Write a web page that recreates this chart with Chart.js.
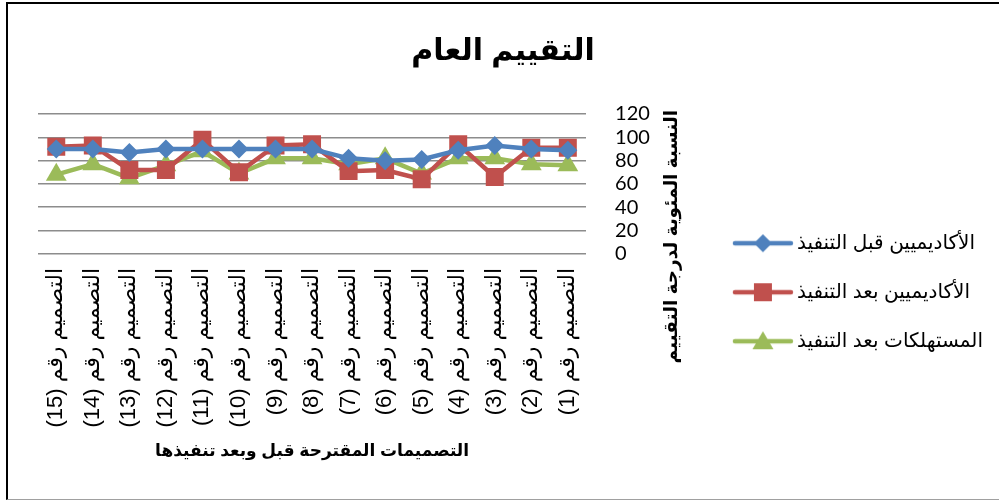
<!DOCTYPE html>
<html>
<head>
<meta charset="utf-8">
<script src="https://cdn.jsdelivr.net/npm/chart.js@4.4.1/dist/chart.umd.min.js"></script>
<style>
  html, body { margin: 0; padding: 0; background: #fff; }
  #wrap { position: relative; width: 999px; height: 500px; overflow: hidden; }
  #frame { position: absolute; left: 6px; top: 2px; width: 1000px; height: 495px;
           border-left: 2px solid #000; border-top: 2px solid #000; border-bottom: 1px solid #a0a0a0;
           pointer-events: none; }
</style>
</head>
<body>
<div id="wrap">
  <canvas id="taqyeemChart" width="999" height="500" dir="rtl"></canvas>
  <div id="frame"></div>
</div>
<script>
// التصميمات 1..15 (المحور معكوس: التصميم 1 على اليمين)
const designNumbers = [1, 2, 3, 4, 5, 6, 7, 8, 9, 10, 11, 12, 13, 14, 15];
const categories = designNumbers.map(n => 'التصميم رقم (' + n + ')');

const academicsBefore = [89, 90, 93, 89, 81, 80, 82, 90, 90, 90, 90, 90, 87, 90, 90];
const academicsAfter  = [91, 91, 66, 94, 64, 72, 71, 94, 93, 70, 98, 72, 72, 93, 92];
const consumersAfter  = [76, 77, 82, 82, 69, 82, 77, 82, 82, 69, 88, 76, 65, 77, 68];

const yMin = 0, yMax = 120, yStep = 20;

const seriesNames = ['الأكاديميين قبل التنفيذ', 'الأكاديميين بعد التنفيذ', 'المستهلكات بعد التنفيذ'];
const chartTitle = '\u00A0\u00A0\u00A0التقييم العام';
const xTitle = 'التصميمات المقترحة قبل وبعد تنفيذها';
const yTitle = 'النسبة المئوية لدرجة التقييم';

const BLUE = '#4F81BD', RED = '#C0504D', GREEN = '#9BBB59';
const arFont = '"Liberation Sans", "DejaVu Sans", sans-serif';

// أيقونة المفتاح: خط مع العلامة في وسطه
function legendIcon(color, shape) {
  const c = document.createElement('canvas');
  c.width = 62; c.height = 26;
  const g = c.getContext('2d');
  g.strokeStyle = color; g.fillStyle = color;
  g.lineWidth = 4.5; g.lineCap = 'round';
  g.beginPath(); g.moveTo(3, 13); g.lineTo(59, 13); g.stroke();
  g.beginPath();
  if (shape === 'diamond') { g.moveTo(31, 4); g.lineTo(40, 13); g.lineTo(31, 22); g.lineTo(22, 13); }
  else if (shape === 'square') { g.rect(22, 4, 18, 18); }
  else { g.moveTo(31, 3); g.lineTo(41.5, 21); g.lineTo(20.5, 21); }
  g.closePath(); g.fill();
  return c;
}
const icons = [legendIcon(BLUE, 'diamond'), legendIcon(RED, 'square'), legendIcon(GREEN, 'triangle')];

// عنوان المحور الرأسي (بدون تقليص العرض)
const yTitlePlugin = {
  id: 'yTitle',
  afterDraw(chart) {
    const s = chart.scales.y, ctx = chart.ctx;
    ctx.save();
    ctx.translate(s.right - 38, chart.chartArea.top - 4);
    ctx.rotate(-Math.PI / 2);
    ctx.font = 'bold 18.5px ' + arFont;
    ctx.fillStyle = '#000';
    ctx.textAlign = 'right';
    ctx.textBaseline = 'middle';
    ctx.fillText(yTitle, 0, 0);
    ctx.restore();
  }
};

function makeSet(label, data, color, style, radius) {
  return {
    label: label, data: data,
    borderColor: color, backgroundColor: color,
    pointBackgroundColor: color, pointBorderColor: color,
    borderWidth: 4.5, pointStyle: style, pointRadius: radius, pointBorderWidth: 0,
    pointHoverRadius: radius, tension: 0
  };
}

const ctx = document.getElementById('taqyeemChart').getContext('2d');
const taqyeemChart = new Chart(ctx, {
  type: 'line',
  data: {
    labels: categories,
    datasets: [
      makeSet(seriesNames[0], academicsBefore, BLUE, 'rectRot', 9.5),
      makeSet(seriesNames[1], academicsAfter, RED, 'rect', 12.7),
      makeSet(seriesNames[2], consumersAfter, GREEN, 'triangle', 12)
    ]
  },
  options: {
    responsive: false,
    animation: false,
    devicePixelRatio: 1,
    layout: { padding: { left: 38, right: 6, top: 5, bottom: 10 } },
    plugins: {
      title: {
        display: true, text: chartTitle, color: '#000',
        font: { family: arFont, size: 30, weight: 'bold' },
        padding: { top: 29, bottom: 44 }
      },
      legend: {
        position: 'right',
        maxWidth: 340,
        title: { display: true, text: ' ', font: { size: 12 }, padding: { top: 75, bottom: 0 } },
        labels: {
          color: '#000', font: { family: arFont, size: 20 },
          usePointStyle: true, pointStyleWidth: 48, padding: 29,
          generateLabels(chart) {
            const items = Chart.defaults.plugins.legend.labels.generateLabels(chart);
            items.forEach((it, i) => { it.pointStyle = icons[i]; });
            return items;
          }
        }
      },
      tooltip: { enabled: false }
    },
    scales: {
      x: {
        reverse: true,
        offset: true,
        grid: { display: false, drawTicks: false },
        border: { display: false },
        ticks: {
          color: '#000', font: { family: arFont, size: 22 },
          minRotation: 90, maxRotation: 90, autoSkip: false, padding: 14
        },
        title: {
          display: true, text: xTitle, color: '#000',
          font: { family: arFont, size: 17, weight: 'bold' },
          padding: { top: 0, bottom: 28 }
        }
      },
      y: {
        position: 'right',
        min: yMin, max: yMax,
        border: { display: false },
        grid: { color: '#8c8c8c', lineWidth: 1.6, drawTicks: false },
        ticks: {
          stepSize: yStep, autoSkip: false, color: '#000', padding: 29,
          font: { family: 'Lato, "Open Sans", sans-serif', size: 20 }
        },
        afterFit(scale) { scale.width += 31; }
      }
    }
  },
  plugins: [yTitlePlugin]
});
</script>
</body>
</html>
